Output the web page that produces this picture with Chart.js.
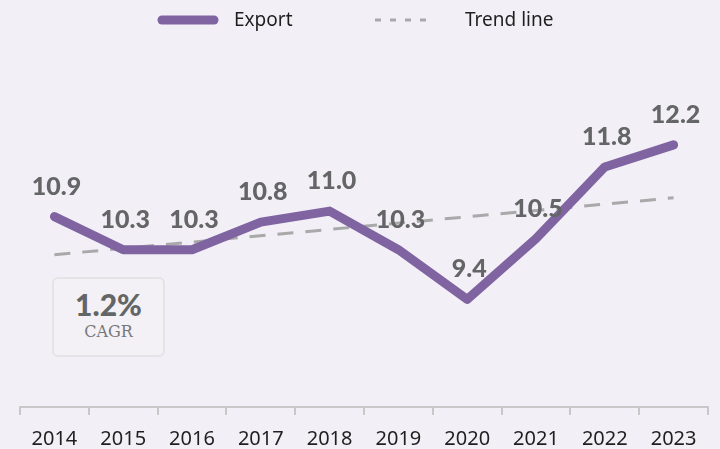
<!DOCTYPE html>
<html>
<head>
<meta charset="utf-8">
<script src="https://cdn.jsdelivr.net/npm/chart.js@4/dist/chart.umd.min.js"></script>
<style>
    html, body {
        margin: 0;
        padding: 0;
        background: #f2eff6;
    }
    #wrap {
        position: relative;
        width: 720px;
        height: 449px;
    }
    #cagr {
        position: absolute;
        left: 52px;
        top: 277px;
        width: 109px;
        height: 76px;
        border: 2px solid #e4e3e6;
        border-radius: 6px;
        background: #f3f1f6;
        text-align: center;
        color: #646566;
    }
    #cagr .num {
        font: 900 30px Lato, sans-serif;
        margin-top: 9px;
        line-height: 32px;
    }
    #cagr .lbl {
        font: 16px "DejaVu Serif", serif;
        color: #767778;
        margin-top: 2px;
    }
</style>
</head>
<body>
<div id="wrap">
    <canvas id="exportChart" width="720" height="449"></canvas>
    <div id="cagr"><div class="num">1.2%</div><div class="lbl">CAGR</div></div>
</div>
<script>
const years = ['2014', '2015', '2016', '2017', '2018', '2019', '2020', '2021', '2022', '2023'];
const exportValues = [10.9, 10.3, 10.3, 10.8, 11.0, 10.3, 9.4, 10.5, 11.8, 12.2];
// trend line only needs its two end points, the gap is spanned
const trendValues = [10.21, null, null, null, null, null, null, null, null, 11.24];

const purple = '#8064a2';
const trendGray = '#a9a9a9';

const valueLabels = {
    id: 'valueLabels',
    afterDatasetsDraw(chart) {
        const ctx = chart.ctx;
        const meta = chart.getDatasetMeta(0);
        ctx.save();
        ctx.font = '900 25px Lato, sans-serif';
        ctx.fillStyle = '#646566';
        ctx.textAlign = 'center';
        ctx.textBaseline = 'middle';
        meta.data.forEach(function (pt, i) {
            ctx.fillText(exportValues[i].toFixed(1), pt.x + 2, pt.y - 30);
        });
        ctx.restore();
    },
};

const topLegend = {
    id: 'topLegend',
    afterDraw(chart) {
        const ctx = chart.ctx;
        ctx.save();
        ctx.lineCap = 'round';
        ctx.strokeStyle = purple;
        ctx.lineWidth = 9;
        ctx.beginPath();
        ctx.moveTo(162, 20);
        ctx.lineTo(214, 20);
        ctx.stroke();

        ctx.lineCap = 'butt';
        ctx.strokeStyle = trendGray;
        ctx.lineWidth = 3;
        ctx.setLineDash([6, 9]);
        ctx.beginPath();
        ctx.moveTo(375, 20);
        ctx.lineTo(434, 20);
        ctx.stroke();

        ctx.fillStyle = '#1f1f1f';
        ctx.font = '19px "Noto Sans", sans-serif';
        ctx.textBaseline = 'middle';
        ctx.fillText('Export', 234, 21);
        ctx.fillText('Trend line', 465, 21);
        ctx.restore();
    },
};

new Chart(document.getElementById('exportChart'), {
    type: 'line',
    data: {
        labels: years,
        datasets: [
            {
                label: 'Export',
                data: exportValues,
                borderColor: purple,
                borderWidth: 9,
                borderCapStyle: 'round',
                borderJoinStyle: 'round',
                pointRadius: 0,
                tension: 0,
            },
            {
                label: 'Trend line',
                data: trendValues,
                borderColor: trendGray,
                borderWidth: 3,
                borderDash: [16, 12],
                pointRadius: 0,
                spanGaps: true,
                tension: 0,
            },
        ],
    },
    options: {
        responsive: false,
        animation: false,
        layout: {
            padding: { top: 40, left: 20, right: 12, bottom: 0 },
        },
        plugins: {
            legend: { display: false },
            tooltip: { enabled: false },
        },
        scales: {
            x: {
                offset: true,
                afterFit: function (scale) {
                    scale.height = 42;
                },
                grid: {
                    offset: true,
                    drawOnChartArea: false,
                    color: '#c8c8c8',
                    tickLength: 8,
                    lineWidth: 2,
                },
                border: { color: '#c8c8c8', width: 2 },
                ticks: {
                    color: '#1f1f1f',
                    font: { family: 'Noto Sans', size: 20 },
                    padding: 12,
                    maxRotation: 0,
                    autoSkip: false,
                },
            },
            y: {
                display: false,
                min: 7.45,
                max: 14.1,
            },
        },
    },
    plugins: [valueLabels, topLegend],
});
</script>
</body>
</html>
